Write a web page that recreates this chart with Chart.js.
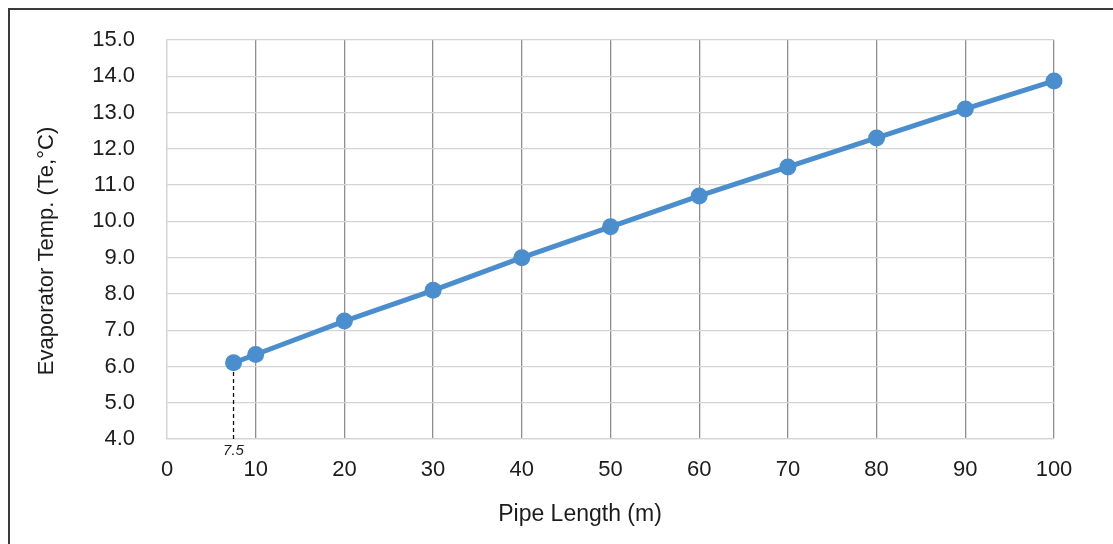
<!DOCTYPE html>
<html>
<head>
<meta charset="utf-8">
<script src="https://cdn.jsdelivr.net/npm/chart.js@4/dist/chart.umd.min.js"></script>
<style>
  html, body { margin: 0; padding: 0; background: #fff; overflow: hidden; width: 1113px; height: 544px; }
  #wrap { position: absolute; left: 0; top: 0; width: 1113px; height: 544px; }
  #frame { position: absolute; left: 8px; top: 8px; width: 1400px; height: 900px; border: 2px solid #3a3a3a; pointer-events: none; }
</style>
</head>
<body>
<div id="wrap"><canvas id="c" width="1113" height="544"></canvas></div>
<div id="frame"></div>
<script>
// Data
const pipeLength = [7.5, 10, 20, 30, 40, 50, 60, 70, 80, 90, 100];
const evapTemp   = [6.1, 6.33, 7.25, 8.1, 9.0, 9.85, 10.7, 11.5, 12.3, 13.1, 13.87];
const markerX = [7.5];
const markerLabels = ['7.5'];
const xTitle = 'Pipe Length (m)';
const yTitle = 'Evaporator Temp. (Te,°C)';

const FONT = '"Liberation Sans", Arial, Helvetica, sans-serif';
const TEXT = '#1c1c1c';

const mainPoints = pipeLength.map((x, i) => ({ x: x, y: evapTemp[i] }));
const dashPoints = [{ x: markerX[0], y: 4 }, { x: markerX[0], y: evapTemp[0] }];

const textPlugin = {
  id: 'extraText',
  afterDraw(chart) {
    const ctx = chart.ctx;
    const xs = chart.scales.x;
    const ca = chart.chartArea;
    ctx.save();
    ctx.fillStyle = TEXT;
    ctx.textAlign = 'center';
    ctx.textBaseline = 'middle';
    ctx.font = 'italic 15px ' + FONT;
    markerX.forEach((v, i) => {
      ctx.fillText(markerLabels[i], xs.getPixelForValue(v), ca.bottom + 12);
    });
    ctx.font = '23px ' + FONT;
    ctx.fillText(xTitle, 580, 515);
    ctx.translate(47, 251);
    ctx.rotate(-Math.PI / 2);
    ctx.font = '22px ' + FONT;
    ctx.fillText(yTitle, 0, 0);
    ctx.restore();
  }
};

new Chart(document.getElementById('c'), {
  type: 'scatter',
  data: {
    datasets: [
      {
        data: mainPoints,
        showLine: true,
        clip: false,
        borderColor: '#4b8ecd',
        backgroundColor: '#4b8ecd',
        borderWidth: 5,
        pointRadius: 8.5,
        pointHoverRadius: 8.5,
        pointBorderWidth: 0,
        order: 1
      },
      {
        data: dashPoints,
        showLine: true,
        borderColor: '#111',
        borderWidth: 1.3,
        borderDash: [4, 3],
        pointRadius: 0,
        order: 2
      }
    ]
  },
  options: {
    responsive: false,
    animation: false,
    devicePixelRatio: 1,
    layout: { padding: { left: 0, top: 40, right: 59, bottom: 0 } },
    plugins: { legend: { display: false }, tooltip: { enabled: false } },
    scales: {
      x: {
        type: 'linear',
        min: 0, max: 100,
        afterFit(s) { s.height = 105; },
        ticks: { stepSize: 10, padding: 18, color: TEXT, font: { family: FONT, size: 22 } },
        grid: {
          drawTicks: false,
          lineWidth: 1.3,
          color: (c) => (c.tick && c.tick.value === 0) ? '#d4d4d4' : '#8e8e8e'
        },
        border: { display: true, color: '#d4d4d4', width: 1.3 },
        title: { display: false }
      },
      y: {
        type: 'linear',
        min: 4, max: 15,
        afterFit(s) { s.width = 167; s.paddingTop = 0; s.paddingBottom = 0; },
        ticks: { stepSize: 1, padding: 32, color: TEXT, font: { family: FONT, size: 22 },
                 callback: (v) => Number(v).toFixed(1) },
        grid: { drawTicks: false, lineWidth: 1.3, color: '#d4d4d4' },
        border: { display: true, color: '#d4d4d4', width: 1.3 },
        title: { display: false }
      }
    }
  },
  plugins: [textPlugin]
});
</script>
</body>
</html>
